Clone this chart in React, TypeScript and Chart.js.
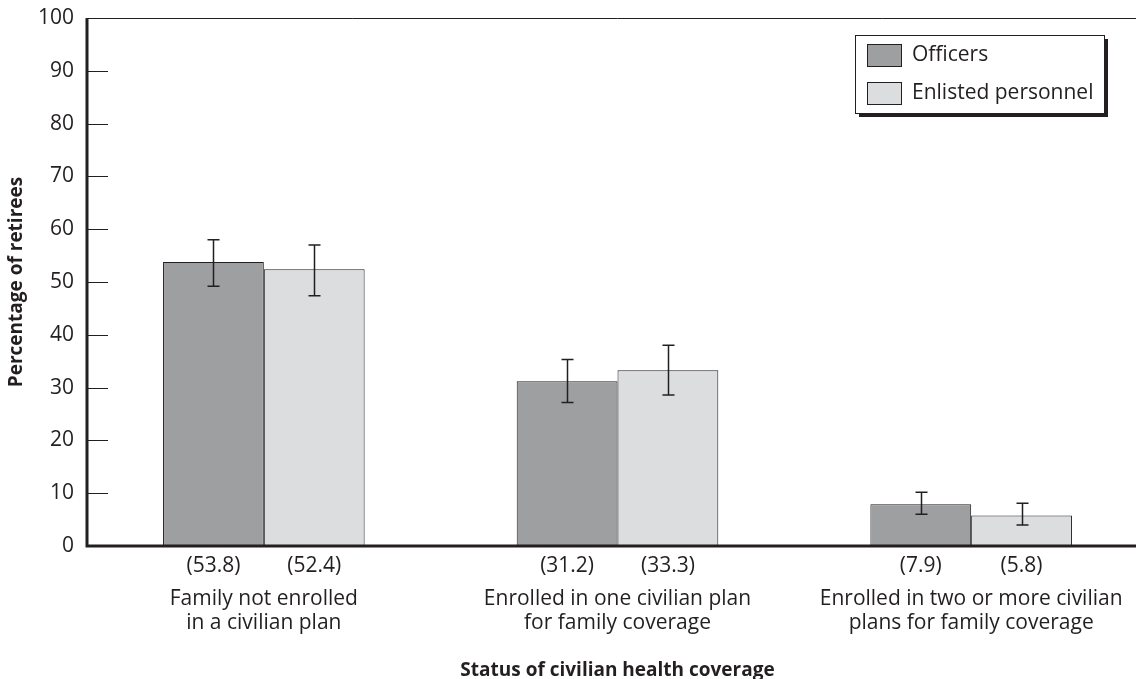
import React, { useEffect, useRef } from "react";
import { Chart, registerables } from "chart.js";

Chart.register(...registerables);

const categories: string[][] = [
  ["Family not enrolled", "in a civilian plan"],
  ["Enrolled in one civilian plan", "for family coverage"],
  ["Enrolled in two or more civilian", "plans for family coverage"],
];
const officers = [53.8, 31.2, 7.9];
const enlisted = [52.4, 33.3, 5.8];
const officersLow = [49.2, 27.2, 6.0];
const officersHigh = [58.0, 35.3, 10.2];
const enlistedLow = [47.4, 28.6, 4.0];
const enlistedHigh = [57.0, 38.0, 8.1];
const yTicks = [0, 10, 20, 30, 40, 50, 60, 70, 80, 90, 100];
const seriesNames = ["Officers", "Enlisted personnel"];
const xTitle = "Status of civilian health coverage";
const yTitle = "Percentage of retirees";

const FONT = '"Open Sans", "Noto Sans", sans-serif';
const OFF_COLOR = "#9e9fa1";
const ENL_COLOR = "#dcdddf";
const INK = "#231f20";

const decorPlugin = {
  id: "decor",
  afterDatasetsDraw(chart: any) {
    const ctx = chart.ctx as CanvasRenderingContext2D;
    const area = chart.chartArea;
    const y = chart.scales.y;
    ctx.save();
    ctx.strokeStyle = INK;
    ctx.fillStyle = INK;

    // top thin line
    ctx.lineWidth = 1;
    ctx.beginPath();
    ctx.moveTo(area.left, area.top + 0.5);
    ctx.lineTo(area.right, area.top + 0.5);
    ctx.stroke();

    // inward ticks
    yTicks.forEach((t) => {
      if (t === 0 || t === 100) return;
      const py = Math.round(y.getPixelForValue(t)) + 0.5;
      ctx.beginPath();
      ctx.moveTo(area.left, py);
      ctx.lineTo(area.left + 21, py);
      ctx.stroke();
    });

    // y tick labels
    ctx.font = `21px ${FONT}`;
    ctx.textAlign = "right";
    ctx.textBaseline = "middle";
    yTicks.forEach((t) => {
      ctx.fillText(String(t), area.left - 13, y.getPixelForValue(t));
    });

    // error bars
    const drawErr = (dsIndex: number, lows: number[], highs: number[]) => {
      const meta = chart.getDatasetMeta(dsIndex);
      meta.data.forEach((bar: any, i: number) => {
        const x = Math.round(bar.x) + 0.5;
        const y1 = y.getPixelForValue(lows[i]);
        const y2 = y.getPixelForValue(highs[i]);
        ctx.lineWidth = 1.5;
        ctx.beginPath();
        ctx.moveTo(x, y1);
        ctx.lineTo(x, y2);
        ctx.moveTo(x - 6, y1);
        ctx.lineTo(x + 6, y1);
        ctx.moveTo(x - 6, y2);
        ctx.lineTo(x + 6, y2);
        ctx.stroke();
      });
    };
    drawErr(0, officersLow, officersHigh);
    drawErr(1, enlistedLow, enlistedHigh);

    // axes (thick)
    ctx.lineWidth = 3;
    ctx.beginPath();
    ctx.moveTo(area.left, area.top);
    ctx.lineTo(area.left, area.bottom + 1.5);
    ctx.moveTo(area.left - 1.5, area.bottom);
    ctx.lineTo(area.right, area.bottom);
    ctx.stroke();

    // value labels under bars
    ctx.font = `21px ${FONT}`;
    ctx.textAlign = "center";
    ctx.textBaseline = "middle";
    const vals = [officers, enlisted];
    [0, 1].forEach((d) => {
      chart.getDatasetMeta(d).data.forEach((bar: any, i: number) => {
        ctx.fillText(`(${vals[d][i].toFixed(1)})`, bar.x, area.bottom + 20);
      });
    });

    // category labels
    const x = chart.scales.x;
    ctx.font = `21px ${FONT}`;
    categories.forEach((lines, i) => {
      const cx = x.getPixelForValue(i);
      lines.forEach((ln, k) => {
        ctx.fillText(ln, cx, area.bottom + 53 + k * 24);
      });
    });

    // x title
    ctx.font = `bold 19px ${FONT}`;
    ctx.fillText(xTitle, (area.left + area.right) / 2, area.bottom + 125);

    // y title
    ctx.save();
    ctx.translate(17, (area.top + area.bottom) / 2);
    ctx.rotate(-Math.PI / 2);
    ctx.font = `bold 19px ${FONT}`;
    ctx.fillText(yTitle, 0, 0);
    ctx.restore();

    // legend
    const lx = 855, ly = 35, lw = 249, lh = 78;
    ctx.fillStyle = INK;
    ctx.fillRect(lx + 4, ly + 4, lw, lh);
    ctx.fillStyle = "#ffffff";
    ctx.fillRect(lx, ly, lw, lh);
    ctx.lineWidth = 1;
    ctx.strokeStyle = INK;
    ctx.strokeRect(lx + 0.5, ly + 0.5, lw, lh);
    const sw = [OFF_COLOR, ENL_COLOR];
    seriesNames.forEach((name, i) => {
      const sy = ly + 9 + i * 38;
      ctx.fillStyle = sw[i];
      ctx.fillRect(lx + 12, sy, 34, 22);
      ctx.strokeStyle = INK;
      ctx.strokeRect(lx + 12.5, sy + 0.5, 34, 22);
      ctx.fillStyle = INK;
      ctx.font = `21px ${FONT}`;
      ctx.textAlign = "left";
      ctx.textBaseline = "middle";
      ctx.fillText(name, lx + 57, sy + 11);
    });

    ctx.restore();
  },
};

export default function App() {
  const ref = useRef<HTMLCanvasElement | null>(null);
  useEffect(() => {
    if (!ref.current) return;
    const chart = new Chart(ref.current, {
      type: "bar",
      data: {
        labels: categories.map((c) => c.join(" ")),
        datasets: [
          {
            label: seriesNames[0],
            data: officers,
            backgroundColor: OFF_COLOR,
            borderColor: INK,
            borderWidth: 1,
            categoryPercentage: 0.57,
            barPercentage: 1,
          },
          {
            label: seriesNames[1],
            data: enlisted,
            backgroundColor: ENL_COLOR,
            borderColor: INK,
            borderWidth: 1,
            categoryPercentage: 0.57,
            barPercentage: 1,
          },
        ],
      },
      options: {
        animation: false,
        responsive: false,
        layout: { padding: { left: 87, top: 18, right: 2, bottom: 133 } },
        plugins: { legend: { display: false }, tooltip: { enabled: false } },
        scales: {
          x: { display: false },
          y: { display: false, min: 0, max: 100 },
        },
      },
      plugins: [decorPlugin],
    });
    return () => chart.destroy();
  }, []);
  return (
    <div
      style={{
        position: "fixed",
        left: 0,
        top: 0,
        width: 1136,
        height: 679,
        overflow: "hidden",
        background: "#fff",
      }}
    >
      <canvas ref={ref} width={1150} height={679} />
    </div>
  );
}
